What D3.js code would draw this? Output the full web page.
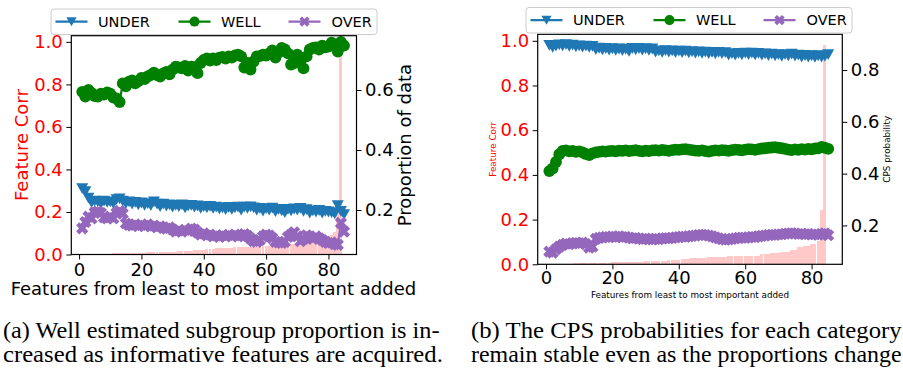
<!DOCTYPE html>
<html>
<head>
<meta charset="utf-8">
<script src="https://cdn.jsdelivr.net/npm/d3@7"></script>
<style>
  body { margin: 0; background: #ffffff; }
  svg { display: block; }
</style>
</head>
<body>
<script>
// ---- data -------------------------------------------------------------
// feature step on the x axis for the three category series
const featureIdx = d3.range(1, 86);
// position of each feature-correlation bar
const barIdx = d3.range(0, 85);

// correlation of each added feature (sorted least -> most important)
const featureCorr = [
  0.000, 0.000, 0.001, 0.001, 0.001, 0.002, 0.002, 0.002, 0.003,
  0.004, 0.004, 0.005, 0.005, 0.005, 0.005, 0.006, 0.006, 0.006, 0.006, 0.007,
  0.009, 0.009, 0.010, 0.010, 0.010, 0.011, 0.011, 0.011, 0.012, 0.012,
  0.014, 0.014, 0.015, 0.015, 0.015, 0.016, 0.016,
  0.019, 0.019, 0.019, 0.020,
  0.025, 0.025, 0.025,
  0.029, 0.030, 0.030, 0.030, 0.030, 0.031,
  0.033, 0.034, 0.034, 0.034, 0.034, 0.035,
  0.037, 0.037, 0.037,
  0.038, 0.038, 0.038, 0.038, 0.038, 0.039,
  0.046, 0.046, 0.046,
  0.050, 0.050, 0.051,
  0.055, 0.055, 0.056,
  0.064, 0.065,
  0.076, 0.077,
  0.083, 0.084,
  0.089, 0.090,
  0.105, 0.243, 0.980
];

// (a) proportion of data in each subgroup
const underProp = [
  0.272, 0.262, 0.240, 0.225, 0.230, 0.228, 0.222, 0.230, 0.226, 0.228,
  0.222, 0.235, 0.238, 0.230, 0.222, 0.228, 0.220, 0.226, 0.218, 0.224,
  0.216, 0.222, 0.215, 0.228, 0.220, 0.212, 0.220, 0.214, 0.218, 0.210,
  0.216, 0.212, 0.218, 0.208, 0.214, 0.216, 0.210, 0.214, 0.206, 0.212,
  0.208, 0.213, 0.206, 0.210, 0.204, 0.208, 0.202, 0.209, 0.203, 0.208,
  0.210, 0.200, 0.210, 0.206, 0.211, 0.208, 0.200, 0.206, 0.197, 0.205,
  0.200, 0.207, 0.195, 0.203, 0.198, 0.192, 0.203, 0.198, 0.204, 0.200,
  0.206, 0.196, 0.202, 0.190, 0.198, 0.194, 0.199, 0.190, 0.196, 0.194,
  0.192, 0.188, 0.215, 0.196, 0.185
];
const wellProp = [
  0.594, 0.578, 0.600, 0.590, 0.580, 0.578, 0.588, 0.585, 0.592, 0.588,
  0.575, 0.572, 0.560, 0.622, 0.612, 0.628, 0.632, 0.622, 0.630, 0.640,
  0.636, 0.645, 0.650, 0.658, 0.650, 0.645, 0.655, 0.660, 0.652, 0.668,
  0.678, 0.675, 0.672, 0.680, 0.665, 0.678, 0.676, 0.656, 0.690, 0.700,
  0.705, 0.698, 0.705, 0.700, 0.708, 0.710, 0.705, 0.712, 0.708, 0.715,
  0.718, 0.712, 0.675, 0.690, 0.668, 0.695, 0.712, 0.713, 0.718, 0.715,
  0.722, 0.732, 0.708, 0.725, 0.740, 0.735, 0.722, 0.685, 0.690, 0.718,
  0.700, 0.672, 0.712, 0.735, 0.740, 0.742, 0.735, 0.748, 0.742, 0.745,
  0.758, 0.750, 0.728, 0.760, 0.748
];
const overProp = [
  0.139, 0.160, 0.178, 0.172, 0.192, 0.195, 0.190, 0.175, 0.172, 0.178,
  0.172, 0.190, 0.197, 0.188, 0.155, 0.150, 0.148, 0.152, 0.146, 0.150,
  0.147, 0.152, 0.145, 0.148, 0.142, 0.146, 0.140, 0.138, 0.142, 0.135,
  0.128, 0.132, 0.128, 0.134, 0.130, 0.138, 0.135, 0.125, 0.118, 0.122,
  0.115, 0.118, 0.112, 0.115, 0.110, 0.116, 0.112, 0.117, 0.113, 0.118,
  0.112, 0.116, 0.120, 0.114, 0.105, 0.096, 0.094, 0.100, 0.112, 0.118,
  0.115, 0.106, 0.094, 0.092, 0.090, 0.094, 0.110, 0.118, 0.126, 0.112,
  0.096, 0.104, 0.116, 0.110, 0.104, 0.112, 0.106, 0.100, 0.094, 0.090,
  0.092, 0.086, 0.084, 0.157, 0.128
];

// (b) CPS probability of each category
const underCps = [
  0.896, 0.888, 0.893, 0.898, 0.894, 0.899, 0.892, 0.897, 0.890, 0.894,
  0.889, 0.893, 0.888, 0.892, 0.880, 0.885, 0.879, 0.884, 0.878, 0.883,
  0.877, 0.882, 0.876, 0.881, 0.873, 0.884, 0.879, 0.884, 0.878, 0.883,
  0.877, 0.882, 0.870, 0.875, 0.869, 0.876, 0.870, 0.875, 0.868, 0.874,
  0.868, 0.874, 0.867, 0.872, 0.866, 0.871, 0.865, 0.870, 0.864, 0.869,
  0.863, 0.869, 0.864, 0.868, 0.858, 0.864, 0.858, 0.865, 0.859, 0.866,
  0.860, 0.866, 0.859, 0.865, 0.858, 0.863, 0.857, 0.862, 0.856, 0.860,
  0.854, 0.860, 0.856, 0.862, 0.855, 0.858, 0.851, 0.857, 0.851, 0.856,
  0.850, 0.856, 0.851, 0.854, 0.860
];
const wellCps = [
  0.410, 0.420, 0.445, 0.475, 0.488, 0.490, 0.486, 0.488, 0.484, 0.486,
  0.482, 0.476, 0.472, 0.478, 0.482, 0.484, 0.486, 0.485, 0.487, 0.488,
  0.486, 0.489, 0.488, 0.490, 0.487, 0.489, 0.491, 0.488, 0.486, 0.489,
  0.487, 0.490, 0.491, 0.489, 0.492, 0.490, 0.488, 0.491, 0.493, 0.492,
  0.494, 0.495, 0.493, 0.491, 0.489, 0.488, 0.490, 0.487, 0.485, 0.488,
  0.490, 0.489, 0.491, 0.490, 0.488, 0.491, 0.493, 0.492, 0.490, 0.493,
  0.495, 0.494, 0.492, 0.495, 0.497, 0.498, 0.500, 0.501, 0.502, 0.500,
  0.498, 0.496, 0.493, 0.491, 0.494, 0.492, 0.495, 0.493, 0.496, 0.494,
  0.497, 0.498, 0.503, 0.500, 0.496
];
const overCps = [
  0.099, 0.095, 0.108, 0.118, 0.125, 0.130, 0.128, 0.131, 0.133, 0.131,
  0.134, 0.128, 0.114, 0.118, 0.148, 0.152, 0.154, 0.156, 0.155, 0.157,
  0.156, 0.158, 0.155, 0.156, 0.153, 0.150, 0.152, 0.149, 0.147, 0.149,
  0.147, 0.146, 0.148, 0.147, 0.150, 0.151, 0.150, 0.152, 0.154, 0.155,
  0.157, 0.156, 0.158, 0.160, 0.161, 0.163, 0.164, 0.163, 0.161, 0.158,
  0.154, 0.150, 0.147, 0.145, 0.146, 0.148, 0.150, 0.152, 0.153, 0.152,
  0.154, 0.156, 0.155, 0.158, 0.160, 0.161, 0.163, 0.164, 0.163, 0.165,
  0.166, 0.168, 0.169, 0.170, 0.169, 0.167, 0.168, 0.166, 0.167, 0.165,
  0.166, 0.164, 0.167, 0.170, 0.162
];

// tick values
const xTicks = [0, 20, 40, 60, 80];
const corrTicks = [0.0, 0.2, 0.4, 0.6, 0.8, 1.0];
const propTicks = [0.2, 0.4, 0.6];
const cpsTicks = [0.2, 0.4, 0.6, 0.8];

// series labels and colours
const seriesNames = ["UNDER", "WELL", "OVER"];
const seriesColors = ["#1f77b4", "#008000", "#9467bd"];
const seriesShapes = ["tri", "circle", "x"];

const xLabelText = "Features from least to most important added";
const captionA = ["(a) Well estimated subgroup proportion is in-",
                  "creased as informative features are acquired."];
const captionB = ["(b) The CPS probabilities for each category",
                  "remain stable even as the proportions change"];

// ---- drawing ------------------------------------------------------------
const W = 903, H = 373;
const svg = d3.select("body").append("svg")
  .attr("width", W).attr("height", H)
  .attr("font-family", "'DejaVu Sans', sans-serif");

function markerPath(shape) {
  if (shape === "tri") {
    return "M0,5.6L-6,-5.2L6,-5.2Z";
  }
  if (shape === "circle") {
    return d3.symbol(d3.symbolCircle, Math.PI * 5.9 * 5.9)();
  }
  // filled "X": a plus sign rotated by 45 degrees
  const s = 6.4, w = 2.2;
  const pts = [[-w,-s],[w,-s],[w,-w],[s,-w],[s,w],[w,w],[w,s],[-w,s],[-w,w],[-s,w],[-s,-w],[-w,-w]];
  const c = Math.SQRT1_2;
  return "M" + pts.map(([px, py]) => [(px - py) * c, (px + py) * c].map(v => v.toFixed(2)).join(",")).join("L") + "Z";
}

function drawPanel(cfg) {
  const g = svg.append("g");
  const x = d3.scaleLinear().domain(cfg.xDomain).range([cfg.left, cfg.right]);
  const yCorr = d3.scaleLinear().domain([0, cfg.corrTop]).range([cfg.bottom, cfg.top]);
  const yVal = d3.scaleLinear().domain(cfg.valDomain).range([cfg.bottom, cfg.top]);

  // feature-correlation bars
  const bw = x(0.95) - x(0);
  g.append("g").selectAll("rect")
    .data(barIdx.map((b, i) => ({ b, v: featureCorr[i] })))
    .join("rect")
    .attr("x", d => x(d.b) - bw / 2)
    .attr("width", bw)
    .attr("y", d => yCorr(d.v))
    .attr("height", d => yCorr(0) - yCorr(d.v))
    .attr("fill", "#ffc9c9")
    .attr("shape-rendering", "crispEdges");

  // category series: line then markers
  cfg.series.forEach((vals, si) => {
    const pts = featureIdx.map((f, i) => ({ f, v: vals[i] }));
    const color = seriesColors[si];
    g.append("path")
      .datum(pts)
      .attr("fill", "none")
      .attr("stroke", color)
      .attr("stroke-width", 2.2)
      .attr("d", d3.line().x(d => x(d.f)).y(d => yVal(d.v)));
    const mp = markerPath(seriesShapes[si]);
    g.append("g").selectAll("path")
      .data(pts)
      .join("path")
      .attr("d", mp)
      .attr("transform", d => `translate(${x(d.f)},${yVal(d.v)})`)
      .attr("fill", color);
  });

  // frame
  g.append("rect")
    .attr("x", cfg.left).attr("y", cfg.top)
    .attr("width", cfg.right - cfg.left).attr("height", cfg.bottom - cfg.top)
    .attr("fill", "none").attr("stroke", "#000").attr("stroke-width", 1.2);

  // axes
  const styleAxis = (ax, color) => {
    ax.select(".domain").remove();
    ax.attr("font-family", null).attr("font-size", null);
    ax.selectAll(".tick line").attr("stroke", "#000").attr("stroke-width", 1);
    ax.selectAll(".tick text")
      .attr("fill", color)
      .attr("font-size", cfg.tickSize)
      .attr("font-family", "'DejaVu Sans', sans-serif");
  };

  const axB = g.append("g").attr("transform", `translate(0,${cfg.bottom})`)
    .call(d3.axisBottom(x).tickValues(xTicks).tickFormat(d3.format("d"))
      .tickSize(5).tickPadding(cfg.xPad));
  styleAxis(axB, "#000");

  const axL = g.append("g").attr("transform", `translate(${cfg.left},0)`)
    .call(d3.axisLeft(yCorr).tickValues(corrTicks).tickFormat(d3.format(".1f"))
      .tickSize(5).tickPadding(3.5));
  styleAxis(axL, "#ff0000");

  const axR = g.append("g").attr("transform", `translate(${cfg.right},0)`)
    .call(d3.axisRight(yVal).tickValues(cfg.valTicks).tickFormat(d3.format(".1f"))
      .tickSize(5).tickPadding(3.5));
  styleAxis(axR, "#000");

  // axis titles
  const midY = (cfg.top + cfg.bottom) / 2;
  g.append("text")
    .attr("transform", `translate(${cfg.leftLabelX},${midY}) rotate(-90)`)
    .attr("text-anchor", "middle").attr("dominant-baseline", "central")
    .attr("font-size", cfg.leftLabelSize).attr("fill", "#ff0000")
    .text("Feature Corr");
  g.append("text")
    .attr("transform", `translate(${cfg.rightLabelX},${midY}) rotate(-90)`)
    .attr("text-anchor", "middle").attr("dominant-baseline", "central")
    .attr("font-size", cfg.rightLabelSize).attr("fill", "#000")
    .text(cfg.rightLabel);
  g.append("text")
    .attr("x", (cfg.left + cfg.right) / 2 + cfg.xLabelShift).attr("y", cfg.xLabelY)
    .attr("text-anchor", "middle")
    .attr("font-size", cfg.xLabelSize).attr("fill", "#000")
    .text(xLabelText);

  // legend
  const lg = g.append("g");
  lg.append("rect")
    .attr("x", cfg.legendX).attr("y", cfg.legendY)
    .attr("width", 326).attr("height", 25.5).attr("rx", 3)
    .attr("fill", "#fff").attr("fill-opacity", 0.8)
    .attr("stroke", "#cccccc").attr("stroke-width", 1);
  const cy = cfg.legendY + 12.6;
  const handleOff = [4.5, 127.5, 237.5];
  const textOff = [47, 170, 280.5];
  seriesNames.forEach((name, si) => {
    const hx = cfg.legendX + handleOff[si];
    lg.append("line")
      .attr("x1", hx).attr("x2", hx + 32).attr("y1", cy).attr("y2", cy)
      .attr("stroke", seriesColors[si]).attr("stroke-width", 2.2);
    lg.append("path")
      .attr("d", markerPath(seriesShapes[si]))
      .attr("transform", `translate(${hx + 16},${cy}) scale(0.85)`)
      .attr("fill", seriesColors[si]);
    lg.append("text")
      .attr("x", cfg.legendX + textOff[si]).attr("y", cy + 5.3)
      .attr("font-size", 14.5).attr("fill", "#000")
      .text(name);
  });
}

drawPanel({
  left: 71.3, right: 356.5, top: 35.7, bottom: 254.5,
  xDomain: [-2.5, 89],
  corrTop: 1.029,
  valDomain: [0.0517, 0.781],
  valTicks: propTicks,
  series: [underProp, wellProp, overProp],
  tickSize: 18, xPad: 3.5,
  leftLabelX: 21, leftLabelSize: 18,
  rightLabel: "Proportion of data", rightLabelX: 404, rightLabelSize: 18,
  xLabelY: 295, xLabelSize: 18, xLabelShift: -0.5,
  legendX: 51, legendY: 9
});

drawPanel({
  left: 537.7, right: 842.3, top: 34.3, bottom: 264.3,
  xDomain: [-2.5, 89.25],
  corrTop: 1.029,
  valDomain: [0.050, 0.938],
  valTicks: cpsTicks,
  series: [underCps, wellCps, overCps],
  tickSize: 18, xPad: 2,
  leftLabelX: 492.5, leftLabelSize: 8.8,
  rightLabel: "CPS probability", rightLabelX: 886.7, rightLabelSize: 8.8,
  xLabelY: 298, xLabelSize: 8.8, xLabelShift: 0,
  legendX: 526, legendY: 7.5
});

// captions: Times-style text, each line set flush to both edges
const cap = svg.append("g")
  .attr("font-family", "'Liberation Serif', 'Times New Roman', serif")
  .attr("font-size", 22.5).attr("fill", "#000");
[[captionA, 3, [437, 440]], [captionB, 471, [431, 431]]].forEach(([lines, x0, lens]) => {
  lines.forEach((t, i) => {
    const txt = cap.append("text").attr("x", 0).attr("y", 0).text(t);
    const natural = txt.node().getComputedTextLength();
    txt.attr("transform", `translate(${x0},${338 + i * 24}) scale(${lens[i] / natural},1)`);
  });
});
</script>
</body>
</html>
